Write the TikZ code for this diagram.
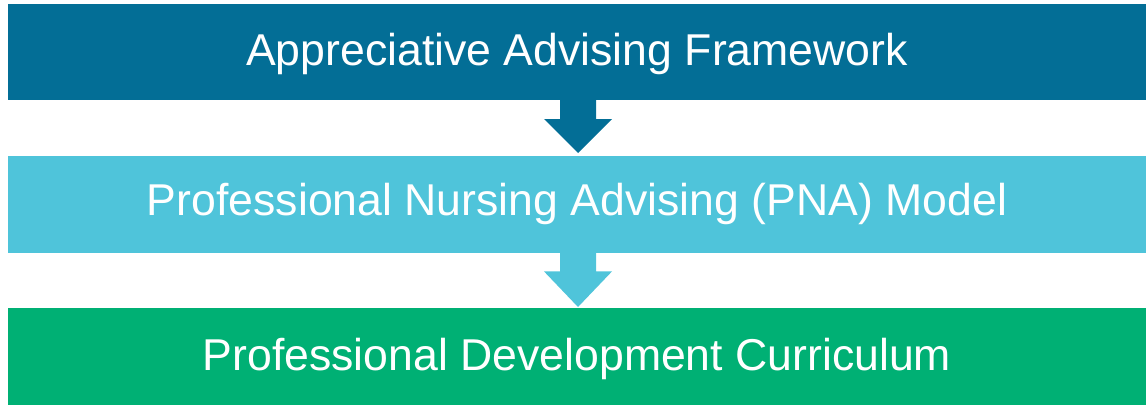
\documentclass[tikz,border=0pt]{standalone}
\usepackage{fontspec}
\setmainfont{Liberation Sans}
\usetikzlibrary{calc}

\definecolor{deepblue}{RGB}{3,110,150}
\definecolor{skyblue}{RGB}{79,196,218}
\definecolor{jade}{RGB}{0,176,116}

\tikzset{
  bar/.style={fill=#1, draw=none, rectangle, inner sep=0pt, anchor=north west,
              minimum width=1138pt},
  label/.style={text=white, anchor=base, inner sep=0pt,
                font=\fontsize{44.6}{50}\selectfont},
  blockarrow/.style={fill=#1, draw=none}
}

\begin{document}
\begin{tikzpicture}[x=1pt, y=-1pt]
  \useasboundingbox (0,0) rectangle (1146,405);

  % the three stacked bars
  \node[bar=deepblue, minimum height=96pt] (frame) at (8,4) {};
  \node[bar=skyblue,  minimum height=97pt] (model) at (8,156) {};
  \node[bar=jade,     minimum height=97pt] (curr)  at (8,308) {};

  % bar captions
  \node[label] (frametxt) at (577,65)  {Appreciative Advising Framework};
  \node[label] (modeltxt) at (577,215) {Professional Nursing Advising (PNA) Model};
  \node[label] (currtxt)  at (577,370) {Professional Development Curriculum};

  % block arrows joining the bars
  \coordinate (a1) at (578,100);
  \coordinate (t1) at (model.north -| a1);
  \fill[blockarrow=deepblue]
    ($(a1)+(-18,-1)$) -- ($(a1)+(18,-1)$) -- ($(a1)+(18,19)$) -- ($(a1)+(34,19)$)
    -- ($(t1)+(0,-3)$) -- ($(a1)+(-34,19)$) -- ($(a1)+(-18,19)$) -- cycle;

  \coordinate (a2) at (model.south -| a1);
  \coordinate (t2) at (curr.north -| a1);
  \fill[blockarrow=skyblue]
    ($(a2)+(-18,-1)$) -- ($(a2)+(18,-1)$) -- ($(a2)+(18,18)$) -- ($(a2)+(34,18)$)
    -- ($(t2)+(0,-1)$) -- ($(a2)+(-34,18)$) -- ($(a2)+(-18,18)$) -- cycle;
\end{tikzpicture}
\end{document}
